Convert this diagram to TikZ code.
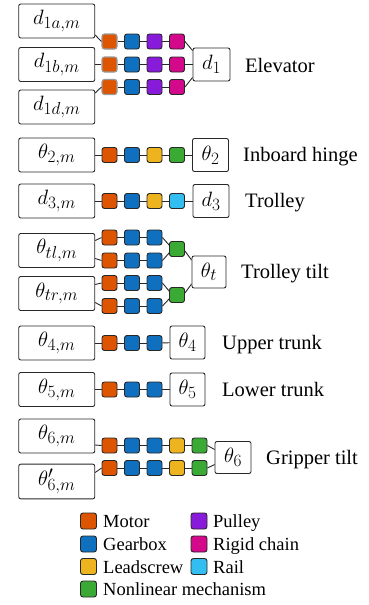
\documentclass[tikz,border=0pt]{standalone}
\usepackage{fontspec}
\setmainfont{Liberation Serif}
\DeclareMathSizes{22.5}{22.5}{18}{14}
\newcommand\labfont{\fontsize{20.5}{24}\selectfont}
\newcommand\mathbig{\fontsize{22.5}{27}\selectfont}
\newcommand\legfont{\fontsize{18.5}{22}\selectfont}
\definecolor{cMotor}{RGB}{221,85,0}
\definecolor{cGear}{RGB}{16,112,192}
\definecolor{cPulley}{RGB}{136,26,218}
\definecolor{cChain}{RGB}{212,8,138}
\definecolor{cLead}{RGB}{238,180,32}
\definecolor{cRail}{RGB}{50,190,240}
\definecolor{cNonlin}{RGB}{58,170,53}
\definecolor{edge}{RGB}{40,40,40}
\tikzset{
  conn/.style={draw=edge, line width=0.9pt},
  bigbox/.style={draw=edge, line width=0.9pt, rounded corners=2pt, minimum width=76pt, minimum height=34pt, inner xsep=4pt, inner ysep=4.5pt, font=\mathbig},
  outbox/.style={draw=edge, line width=0.9pt, rounded corners=2pt, minimum width=36pt, minimum height=33pt, inner xsep=2pt, inner ysep=3pt, font=\mathbig},
  sq/.style={draw=edge, line width=0.9pt, rounded corners=2.5pt, minimum size=15pt, inner sep=0pt},
  legsq/.style={sq, minimum size=16pt},
  lab/.style={anchor=base west, inner sep=0pt, font=\labfont},
  legt/.style={anchor=base west, inner sep=0pt, font=\legfont},
  mot/.style={fill=cMotor},
  motg/.style={fill=cMotor, draw=black!40, line width=1.1pt},
  gear/.style={fill=cGear},
  pul/.style={fill=cPulley},
  chn/.style={fill=cChain},
  lead/.style={fill=cLead},
  rail/.style={fill=cRail},
  nonl/.style={fill=cNonlin},
}
\newcommand\mkrow[3]{%
  \foreach \c [count=\i] in {#3} {
    \node[sq,\c] (#1-\i) at ({109.5+22.5*(\i-1)}, #2) {};
    \ifnum\i>1
      \pgfmathtruncatemacro\j{\i-1}
      \draw[conn] (#1-\j) -- (#1-\i);
    \fi
  }}
\begin{document}
\begin{tikzpicture}[x=1pt,y=-1pt]
\useasboundingbox (0,0) rectangle (368,605);

% Elevator
\node[bigbox] (d1a) at (56.75,21) {$d_{1a,m}$};
\node[bigbox] (d1b) at (56.75,64.5) {$d_{1b,m}$};
\node[bigbox] (d1d) at (56.75,107) {$d_{1d,m}$};
\mkrow{ea}{41.5}{motg,gear,pul,chn}
\mkrow{eb}{64.5}{motg,gear,pul,chn}
\mkrow{ec}{87}{motg,gear,pul,chn}
\node[outbox, minimum width=37pt] (d1) at (211.5,64.5) {$d_{1}$};
\draw[conn] ([yshift=-14pt]d1a.east) -- (ea-1.west);
\draw[conn] (d1b) -- (eb-1);
\draw[conn] ([yshift=14pt]d1d.east) -- (ec-1.west);
\draw[conn] (ea-4.east) -- ([yshift=14pt]d1.west);
\draw[conn] (eb-4) -- (d1);
\draw[conn] (ec-4.east) -- ([yshift=-13pt]d1.west);
\node[lab] (lelev) at (245,72) {Elevator};

% Inboard hinge
\node[bigbox] (t2m) at (56.75,155) {$\theta_{2,m}$};
\mkrow{ih}{155}{mot,gear,lead,nonl}
\node[outbox] (t2) at (210.5,155) {$\theta_{2}$};
\draw[conn] (t2m) -- (ih-1);
\draw[conn] (ih-4) -- (t2);
\node[lab] (linb) at (243,161.5) {Inboard hinge};

% Trolley
\node[bigbox] (d3m) at (56.75,201) {$d_{3,m}$};
\mkrow{tr}{201}{mot,gear,lead,rail}
\node[outbox] (d3) at (211,201) {$d_{3}$};
\draw[conn] (d3m) -- (tr-1);
\draw[conn] (tr-4) -- (d3);
\node[lab] (ltro) at (245,207.5) {Trolley};

% Trolley tilt
\node[bigbox] (ttl) at (56.75,250.5) {$\theta_{tl,m}$};
\node[bigbox] (ttr) at (56.75,293.5) {$\theta_{tr,m}$};
\mkrow{ta}{237.5}{mot,gear,gear}
\mkrow{tb}{260.5}{mot,gear,gear}
\mkrow{tc}{283}{mot,gear,gear}
\mkrow{td}{306}{mot,gear,gear}
\node[sq,nonl] (gu) at (177,249) {};
\node[sq,nonl] (gl) at (177,295) {};
\node[outbox, minimum width=34pt, minimum height=32pt] (tt) at (209,272) {$\theta_{t}$};
\draw[conn] ([yshift=10pt]ttl.east) -- (ta-1.west);
\draw[conn] ([yshift=-8pt]ttl.east) -- (tb-1.west);
\draw[conn] ([yshift=9pt]ttr.east) -- (tc-1.west);
\draw[conn] ([yshift=-9pt]ttr.east) -- (td-1.west);
\draw[conn] (ta-3.east) -- ([yshift=4pt]gu.west);
\draw[conn] (tb-3.east) -- ([yshift=-4pt]gu.west);
\draw[conn] (tc-3.east) -- ([yshift=4pt]gl.west);
\draw[conn] (td-3.east) -- ([yshift=-4pt]gl.west);
\draw[conn] ([yshift=-2pt]gu.east) -- ([yshift=12pt]tt.west);
\draw[conn] ([yshift=2pt]gl.east) -- ([yshift=-12pt]tt.west);
\node[lab] (ltt) at (241,278.5) {Trolley tilt};

% Upper trunk
\node[bigbox] (t4m) at (56.75,343) {$\theta_{4,m}$};
\mkrow{ut}{343}{mot,gear,gear}
\node[outbox, minimum width=35pt] (t4) at (187.5,342.5) {$\theta_{4}$};
\draw[conn] (t4m) -- (ut-1);
\draw[conn] (ut-3) -- (t4);
\node[lab] (lut) at (222,349.5) {Upper trunk};

% Lower trunk
\node[bigbox] (t5m) at (56.75,389.5) {$\theta_{5,m}$};
\mkrow{lt}{389.5}{mot,gear,gear}
\node[outbox, minimum width=35pt] (t5) at (187.5,389.5) {$\theta_{5}$};
\draw[conn] (t5m) -- (lt-1);
\draw[conn] (lt-3) -- (t5);
\node[lab] (llt) at (222,396) {Lower trunk};

% Gripper tilt
\node[bigbox] (t6m) at (56.75,436) {$\theta_{6,m}$};
\node[bigbox] (t6pm) at (56.75,481.5) {$\theta'_{6,m}$};
\mkrow{ga}{445.5}{mot,gear,gear,lead,nonl}
\mkrow{gb}{468}{mot,gear,gear,lead,nonl}
\node[outbox, minimum height=32pt] (t6) at (233,457.5) {$\theta_{6}$};
\draw[conn] ([yshift=-9pt]t6m.east) -- (ga-1.west);
\draw[conn] ([yshift=9pt]t6pm.east) -- (gb-1.west);
\draw[conn] (ga-5.east) -- ([yshift=8pt]t6.west);
\draw[conn] (gb-5.east) -- ([yshift=-7pt]t6.west);
\node[lab] (lgt) at (266,464) {Gripper tilt};

% Legend
\node[legsq,mot] (km) at (88.5,521) {};
\node[legt] (kmt) at (103,527.5) {Motor};
\node[legsq,gear] (kg) at (88.5,544) {};
\node[legt] (kgt) at (103,550.5) {Gearbox};
\node[legsq,lead] (kl) at (88.5,566.5) {};
\node[legt] (klt) at (103,573) {Leadscrew};
\node[legsq,nonl] (kn) at (88.5,589) {};
\node[legt] (knt) at (103,595.5) {Nonlinear mechanism};
\node[legsq,pul] (kp) at (199,521) {};
\node[legt] (kpt) at (213,527.5) {Pulley};
\node[legsq,chn] (kc) at (199,544) {};
\node[legt] (kct) at (213,550.5) {Rigid chain};
\node[legsq,rail] (kr) at (199,566.5) {};
\node[legt] (krt) at (213,573) {Rail};
\end{tikzpicture}
\end{document}
